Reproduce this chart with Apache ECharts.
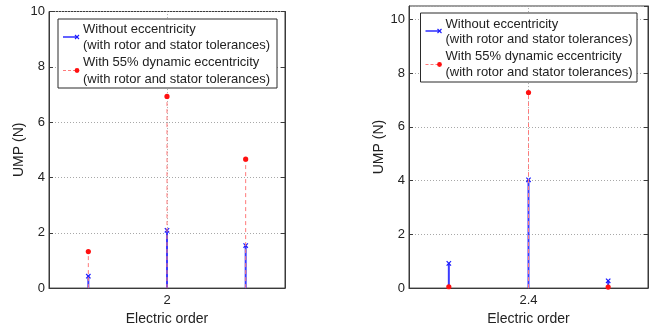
<!DOCTYPE html>
<html><head><meta charset="utf-8">
<script src="https://cdn.jsdelivr.net/npm/echarts@6/dist/echarts.min.js"></script>
<style>html,body{margin:0;padding:0;background:#fff}#c{width:665px;height:331px}</style>
</head><body><div id="c"></div>
<script>
// ---- data ----
const leftOrders = [1.5, 2, 2.5];
const leftWithout = [0.43, 2.09, 1.54];
const leftWith = [1.32, 6.93, 4.66];
const rightOrders = [1.9, 2.4, 2.9];
const rightWithout = [0.92, 4.03, 0.27];
const rightWith = [0.05, 7.28, 0.04];
const leftXTicks = [2];
const rightXTicks = [2.4];
const legendLines = ['Without eccentricity', '(with rotor and stator tolerances)', 'With 55% dynamic eccentricity', '(with rotor and stator tolerances)'];
const xName = 'Electric order';
const yName = 'UMP (N)';

const FONT = 'Liberation Sans, Arial, Helvetica, sans-serif';
const TXT = '#222';
const AX = '#3a3a3a';
const GRIDC = '#a8a8a8';

function stemSeries(xi, xs, ys, kind, vTicks) {
  const s = {
    type: 'custom', xAxisIndex: xi, yAxisIndex: xi * 2, clip: false,
    data: xs.map((x, i) => [x, ys[i]]),
    z: kind === 'blue' ? 3 : 4,
    renderItem(params, api) {
      const b = api.coord([api.value(0), 0]);
      const t = api.coord([api.value(0), api.value(1)]);
      const ch = [];
      if (kind === 'blue') {
        ch.push({ type: 'line', shape: { x1: b[0], y1: b[1], x2: t[0], y2: t[1] }, style: { stroke: '#3a3aff', lineWidth: 2 } });
        const s = 2.2;
        ch.push({ type: 'line', shape: { x1: t[0] - s, y1: t[1] - s, x2: t[0] + s, y2: t[1] + s }, style: { stroke: '#1a1aff', lineWidth: 1.2 } });
        ch.push({ type: 'line', shape: { x1: t[0] - s, y1: t[1] + s, x2: t[0] + s, y2: t[1] - s }, style: { stroke: '#1a1aff', lineWidth: 1.2 } });
      } else {
        ch.push({ type: 'line', shape: { x1: b[0], y1: b[1], x2: t[0], y2: t[1] }, style: { stroke: '#ff7a7a', lineWidth: 1, lineDash: [4, 3] } });
        ch.push({ type: 'circle', shape: { cx: t[0], cy: t[1], r: 2.6 }, style: { fill: '#ff1010' } });
      }
      return { type: 'group', children: ch };
    }
  };
  if (vTicks) {
    s.markLine = {
      silent: true, symbol: 'none', label: { show: false }, z: 1,
      lineStyle: { color: GRIDC, type: [1, 2], width: 1 },
      data: vTicks.map(v => ({ xAxis: v }))
    };
  }
  return s;
}

function xAx(gi, min, max, ticks) {
  return {
    type: 'value', gridIndex: gi, min, max, position: 'bottom',
    name: xName, nameLocation: 'middle', nameGap: 23,
    nameTextStyle: { fontFamily: FONT, fontSize: 14, color: TXT },
    axisLine: { show: true, onZero: false, lineStyle: { color: AX, width: 1 } },
    axisTick: { show: true, inside: true, length: 4, customValues: ticks, lineStyle: { color: AX } },
    axisLabel: { show: true, customValues: ticks, margin: 6, fontFamily: FONT, fontSize: 13, color: TXT },
    splitLine: { show: false }
  };
}
function yAx(gi, max, gap) {
  return {
    type: 'value', gridIndex: gi, min: 0, max, interval: 2, position: 'left',
    name: yName, nameLocation: 'middle', nameGap: gap,
    nameTextStyle: { fontFamily: FONT, fontSize: 14, color: TXT },
    axisLine: { show: true, lineStyle: { color: AX, width: 1 } },
    axisTick: { show: true, inside: true, length: 4, lineStyle: { color: AX } },
    axisLabel: { margin: 4, fontFamily: FONT, fontSize: 13, color: TXT, showMaxLabel: max === 10, formatter: v => (v % 2 === 0 ? String(v) : '') },
    splitLine: { show: true, lineStyle: { color: GRIDC, type: [1, 2], width: 1 } }
  };
}
function yAxRight(gi, max) {
  return {
    type: 'value', gridIndex: gi, min: 0, max, interval: 2, position: 'right',
    axisLine: { show: true, lineStyle: { color: AX, width: 1 } },
    axisTick: { show: true, inside: true, length: 4, lineStyle: { color: AX } },
    axisLabel: { show: false }, splitLine: { show: false }
  };
}

function legend(x, y, w, h, tx, ly) {
  const els = [];
  els.push({ type: 'rect', shape: { x: x, y: y, width: w, height: h }, style: { fill: '#fff', stroke: '#2a2a2a', lineWidth: 1 }, z: 10 });
  const l1 = ly[0], l2 = ly[1];
  els.push({ type: 'line', shape: { x1: x + 5, y1: l1, x2: x + 19, y2: l1 }, style: { stroke: '#3a3aff', lineWidth: 1.6 }, z: 11 });
  const s = 2;
  els.push({ type: 'line', shape: { x1: x + 19 - s, y1: l1 - s, x2: x + 19 + s, y2: l1 + s }, style: { stroke: '#1a1aff', lineWidth: 1.1 }, z: 11 });
  els.push({ type: 'line', shape: { x1: x + 19 - s, y1: l1 + s, x2: x + 19 + s, y2: l1 - s }, style: { stroke: '#1a1aff', lineWidth: 1.1 }, z: 11 });
  els.push({ type: 'line', shape: { x1: x + 5, y1: l2, x2: x + 19, y2: l2 }, style: { stroke: '#ff7a7a', lineWidth: 1, lineDash: [3, 2] }, z: 11 });
  els.push({ type: 'circle', shape: { cx: x + 19, cy: l2, r: 2.4 }, style: { fill: '#ff1010' }, z: 11 });
  tx.forEach((ty, i) => {
    els.push({ type: 'text', x: x + 25, y: ty, style: { text: legendLines[i], fontFamily: FONT, fontSize: 13, fill: TXT, verticalAlign: 'middle', align: 'left' }, z: 11 });
  });
  return els;
}

const chart = echarts.init(document.getElementById('c'), null, { renderer: 'canvas' });
chart.setOption({
  backgroundColor: '#fff',
  animation: false,
  grid: [
    { left: 49, top: 11.5, width: 236, height: 277.5, show: true, borderColor: AX, borderWidth: 1, backgroundColor: '#fff' },
    { left: 409, top: 6, width: 239, height: 283, show: true, borderColor: AX, borderWidth: 1, backgroundColor: '#fff' }
  ],
  xAxis: [xAx(0, 1.25, 2.75, leftXTicks), xAx(1, 1.65, 3.15, rightXTicks)],
  yAxis: [yAx(0, 10, 21), yAxRight(0, 10), yAx(1, 10.5, 23), yAxRight(1, 10.5)],
  series: [
    stemSeries(0, leftOrders, leftWithout, 'blue', leftXTicks),
    stemSeries(0, leftOrders, leftWith, 'red'),
    stemSeries(1, rightOrders, rightWithout, 'blue', rightXTicks),
    stemSeries(1, rightOrders, rightWith, 'red')
  ],
  graphic: [].concat(
    legend(58, 19, 219, 69, [29.5, 45, 62.7, 79], [37, 70.5]),
    legend(420.5, 13, 216.5, 69, [24, 39.5, 56.7, 72.7], [31, 64.5])
  )
});
</script></body></html>
